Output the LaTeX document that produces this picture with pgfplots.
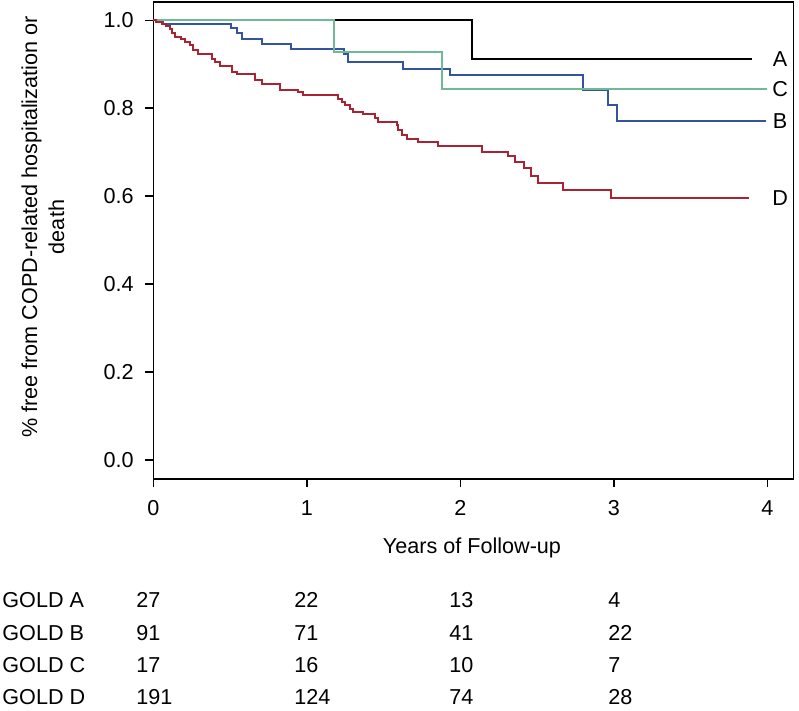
\documentclass[border=0pt]{standalone}
\usepackage{fontspec}
\setmainfont{Liberation Sans}
\usepackage{pgfplots}
\pgfplotsset{compat=1.18}
\usepackage{pgfplotstable}
\definecolor{cA}{RGB}{0,0,0}
\definecolor{cB}{RGB}{52,84,158}
\definecolor{cC}{RGB}{112,184,150}
\definecolor{cD}{RGB}{170,35,50}

\pgfplotstableread{
t s
0 1.0
2.076 0.911
3.90 0.911
}\dataA
\pgfplotstableread{
t s
0 1.0
0.061 0.991
0.506 0.983
0.543 0.970
0.576 0.958
0.706 0.945
0.90 0.935
1.242 0.924
1.27 0.905
1.629 0.890
1.93 0.875
2.80 0.841
2.964 0.808
3.023 0.770
3.99 0.770
}\dataB
\pgfplotstableread{
t s
0 1.0
1.179 0.928
1.883 0.843
4.0 0.843
}\dataC
\pgfplotstableread{
t s
0 1.0
0.02 0.995
0.055 0.991
0.08 0.986
0.109 0.981
0.12 0.972
0.141 0.962
0.18 0.957
0.206 0.951
0.239 0.943
0.261 0.932
0.293 0.924
0.38 0.913
0.402 0.905
0.434 0.895
0.51 0.883
0.543 0.877
0.663 0.864
0.706 0.855
0.825 0.842
0.945 0.837
0.977 0.830
1.205 0.822
1.227 0.814
1.249 0.807
1.281 0.799
1.303 0.792
1.368 0.786
1.444 0.777
1.466 0.769
1.586 0.761
1.596 0.750
1.618 0.739
1.651 0.731
1.726 0.723
1.857 0.714
2.139 0.701
2.313 0.691
2.356 0.678
2.415 0.663
2.461 0.646
2.508 0.630
2.671 0.615
2.98 0.595
3.88 0.595
}\dataD

\begin{document}
\fontsize{10.8}{13.5}\selectfont
\begin{tikzpicture}
\begin{axis}[
  at={(0,0)}, anchor=south west,
  width=320pt, height=238.5pt, scale only axis,
  xmin=0, xmax=4.169, ymin=-0.0432, ymax=1.0416,
  xtick={0,1,2,3,4}, ytick={0,0.2,0.4,0.6,0.8,1.0},
  tick align=outside, tick pos=left, major tick length=4pt,
  /pgf/number format/assume math mode=true,
  yticklabel style={/pgf/number format/fixed, /pgf/number format/fixed zerofill, /pgf/number format/precision=1, xshift=-2pt},
  xticklabel style={yshift=-3pt},
  axis line style={line width=0.75pt},
  tick style={line width=0.75pt, black},
  clip=false,
]
\addplot[const plot, color=cA, line width=1pt] table[x=t, y=s] {\dataA};
\addplot[const plot, color=cB, line width=1pt] table[x=t, y=s] {\dataB};
\addplot[const plot, color=cC, line width=1pt] table[x=t, y=s] {\dataC};
\addplot[const plot, color=cD, line width=1pt] table[x=t, y=s] {\dataD};
\node at (axis cs:4.083,0.911) {A};
\node at (axis cs:4.083,0.843) {C};
\node at (axis cs:4.083,0.770) {B};
\node at (axis cs:4.083,0.595) {D};
\end{axis}
% x label
\node[anchor=base, inner sep=0pt] at (159.35pt,-37.35pt) {Years of Follow-up};
% y label
\node[rotate=90, align=center, inner sep=0pt] at (-55.15pt,126pt) {\% free from COPD-related hospitalization or\\death};
% table
\foreach \y/\g/\a/\b/\c/\d in {-64.35/A/27/22/13/4, -80.7/B/91/71/41/22, -96.85/C/17/16/10/7, -112.85/D/191/124/74/28}{
  \node[anchor=base west, inner sep=0pt] at (-75.65pt,\y pt) {GOLD \g};
  \node[anchor=base west, inner sep=0pt] at (-8.65pt,\y pt) {\a};
  \node[anchor=base west, inner sep=0pt] at (70.35pt,\y pt) {\b};
  \node[anchor=base west, inner sep=0pt] at (147.85pt,\y pt) {\c};
  \node[anchor=base west, inner sep=0pt] at (227.35pt,\y pt) {\d};
}
\pgfresetboundingbox
\path[use as bounding box] (-76.65pt,-116pt) rectangle (322.85pt,239.5pt);
\end{tikzpicture}
\end{document}
